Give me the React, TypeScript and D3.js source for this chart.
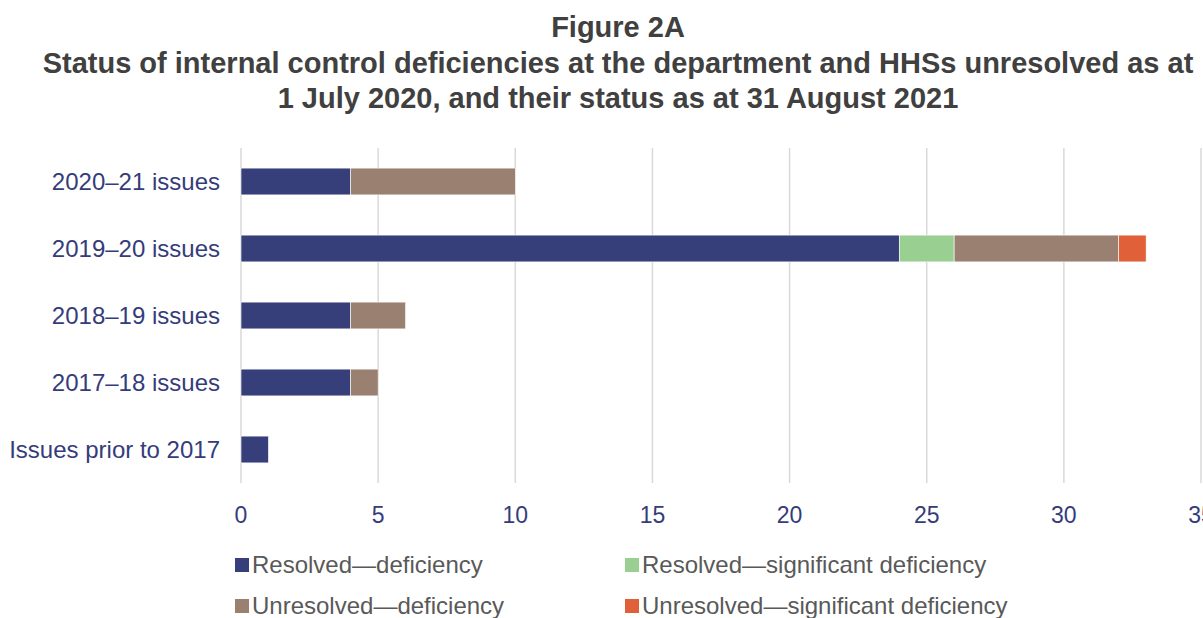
import React from "react";
import * as d3 from "d3";

const categories = ["2020–21 issues", "2019–20 issues", "2018–19 issues", "2017–18 issues", "Issues prior to 2017"];
const seriesNames = ["Resolved—deficiency", "Resolved—significant deficiency", "Unresolved—deficiency", "Unresolved—significant deficiency"];
const resolvedDeficiency = [4, 24, 4, 4, 1];
const resolvedSignificant = [0, 2, 0, 0, 0];
const unresolvedDeficiency = [6, 6, 2, 1, 0];
const unresolvedSignificant = [0, 1, 0, 0, 0];
const xTicks = [0, 5, 10, 15, 20, 25, 30, 35];
const colors = ["#373F7B", "#99CF90", "#9A8070", "#E0603A"];
const titleLines = [
  "Figure 2A",
  "Status of internal control deficiencies at the department and HHSs unresolved as at",
  "1 July 2020, and their status as at 31 August 2021",
];

const W = 1203;
const H = 618;
const FONT = "Liberation Sans, Arial, sans-serif";

export default function App() {
  const x = d3.scaleLinear().domain([0, 35]).range([241, 1201]);
  const y = d3.scaleBand<string>().domain(categories).range([148, 483]).paddingInner(0.6).paddingOuter(0.3);

  const rows = categories.map((c, i) => ({
    cat: c,
    v0: resolvedDeficiency[i],
    v1: resolvedSignificant[i],
    v2: unresolvedDeficiency[i],
    v3: unresolvedSignificant[i],
  }));
  const stack = d3.stack<any>().keys(["v0", "v1", "v2", "v3"])(rows);

  const legendPos = [
    [235, 565],
    [625, 565],
    [235, 606],
    [625, 606],
  ];

  return (
    <div style={{ position: "absolute", left: 0, top: 0 }}>
      <svg width={W} height={H} style={{ display: "block", background: "#fff" }}>
        {titleLines.map((t, i) => (
          <text key={i} x={618} y={37 + i * 35.5} textAnchor="middle" fontFamily={FONT} fontWeight="bold" fontSize={29} fill="#404040">
            {t}
          </text>
        ))}
        {xTicks.map((t) => (
          <line key={t} x1={x(t)} x2={x(t)} y1={148} y2={483} stroke="#D9D9D9" strokeWidth={1.5} />
        ))}
        {stack.map((s, si) =>
          s.map((d, di) =>
            d[1] - d[0] > 0 ? (
              <rect
                key={si + "-" + di}
                x={x(d[0])}
                y={y(categories[di])}
                width={x(d[1]) - x(d[0])}
                height={y.bandwidth()}
                fill={colors[si]}
                stroke="#ffffff"
                strokeWidth={0.6}
              />
            ) : null
          )
        )}
        {categories.map((c) => (
          <text key={c} x={220} y={(y(c) as number) + y.bandwidth() / 2} dy="0.35em" textAnchor="end" fontFamily={FONT} fontSize={24} fill="#353C7A">
            {c}
          </text>
        ))}
        {xTicks.map((t) => (
          <text key={"l" + t} x={x(t)} y={515} dy="0.35em" textAnchor="middle" fontFamily={FONT} fontSize={23} fill="#353C7A">
            {t}
          </text>
        ))}
        {seriesNames.map((n, i) => (
          <g key={n}>
            <rect x={legendPos[i][0]} y={legendPos[i][1] - 7} width={14} height={14} fill={colors[i]} />
            <text x={legendPos[i][0] + 17} y={legendPos[i][1]} dy="0.35em" fontFamily={FONT} fontSize={24} fill="#595959">
              {n}
            </text>
          </g>
        ))}
      </svg>
    </div>
  );
}
